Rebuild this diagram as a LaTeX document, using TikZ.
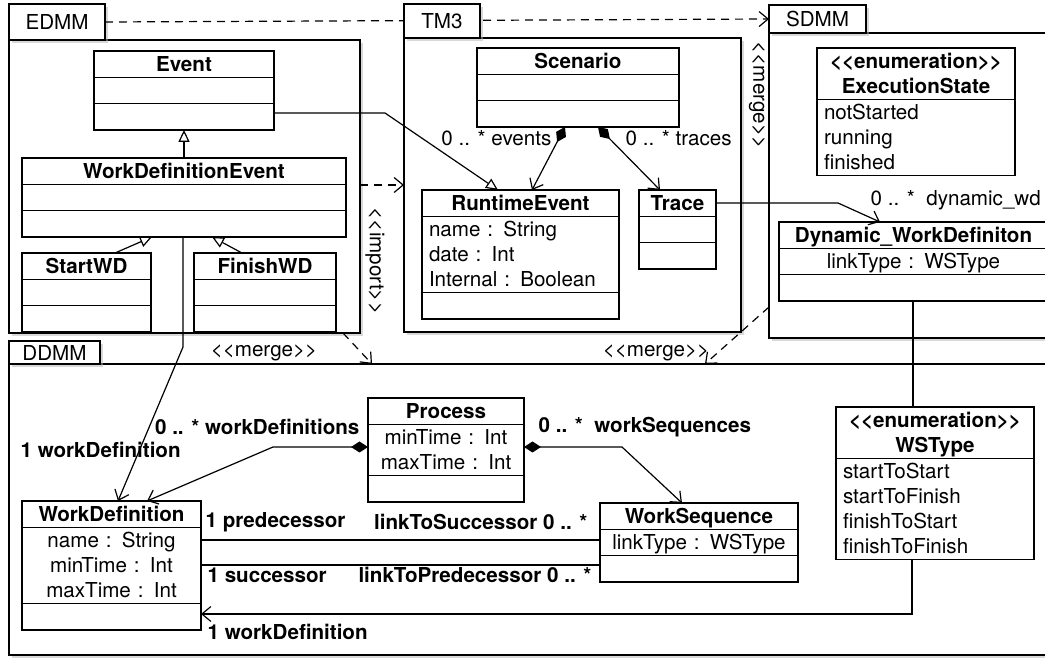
\documentclass[tikz,border=0pt]{standalone}
\usepackage{fontspec}
\newfontfamily\umlfam{TeX Gyre Heros}
\usetikzlibrary{arrows.meta,shapes.multipart,shadows}
\newcommand\umlfont{\umlfam\fontsize{20.6pt}{25pt}\selectfont}
\newcommand\rowstrut{\rule[-5pt]{0pt}{25pt}}

\begin{document}
\begin{tikzpicture}
  [
  x=1pt, y=-1pt,
  line width=1.2pt,
  umlclass/.style={
    rectangle split,
    rectangle split parts=3,
    draw,
    fill=white,
    line width=1.3pt,
    inner xsep=7pt,
    inner ysep=0pt,
    outer sep=0pt,
    anchor=north west,
    align=center,
    font=\umlfont,
    text width=#1
  },
  umlenum/.style={
    umlclass=#1,
    rectangle split parts=2
  },
  package/.style={
    draw,
    fill=white,
    line width=2.4pt,
    inner sep=0pt,
    outer sep=0pt,
    anchor=north west,
    font=\umlfont,
    drop shadow={shadow xshift=3pt, shadow yshift=-3pt, fill=black!30, opacity=0.5}
  },
  lbl/.style={font=\umlfont, inner sep=0pt},
  blbl/.style={font=\umlfont\bfseries, inner sep=0pt},
  gen/.style={-{Triangle[length=12pt,width=11pt,fill=white]}},
  assoc/.style={-{Straight Barb[length=9pt,width=15pt]}},
  comp/.style={{Diamond[length=17pt,width=11pt]}-{Straight Barb[length=9pt,width=15pt]}},
  dep/.style={dash pattern=on 8pt off 6pt, assoc}
  ]
  \useasboundingbox (0,0) rectangle (1045,660);
  \clip (0,0) rectangle (1045,660);

  % packages
  \node[package, minimum width=1051pt, minimum height=291pt] (ddmm) at (9,364) {};
  \node[package, minimum width=91pt, minimum height=23pt] (ddmmtab) at (9,341) {DDMM};
  \node[package, minimum width=351pt, minimum height=293pt] (edmm) at (9,40) {};
  \node[package, minimum width=96pt, minimum height=36pt] (edmmtab) at (9,4) {EDMM};
  \draw[dep] (edmmtab.east) -- (769,19);
  \node[package, minimum width=337pt, minimum height=294pt] (tm) at (404,38) {};
  \node[package, minimum width=76pt, minimum height=34pt] (tmtab) at (404,4) {TM3};
  \node[package, minimum width=291pt, minimum height=305pt] (sdmm) at (769,33) {};
  \node[package, minimum width=97pt, minimum height=28pt] (sdmmtab) at (769,5) {SDMM};

  % EDMM
  \node[umlclass=166pt] (ev) at (94,51)
    {\rowstrut\bfseries Event \nodepart{second}\rowstrut \nodepart{third}\rowstrut};
  \node[umlclass=310pt] (wde) at (22,158)
    {\rowstrut\bfseries WorkDefinitionEvent \nodepart{second}\rowstrut \nodepart{third}\rowstrut};
  \node[umlclass=115pt] (sw) at (22,253)
    {\rowstrut\bfseries StartWD \nodepart{second}\rowstrut \nodepart{third}\rowstrut};
  \node[umlclass=128pt] (fw) at (194,253)
    {\rowstrut\bfseries FinishWD \nodepart{second}\rowstrut \nodepart{third}\rowstrut};

  % TM3
  \node[umlclass=188pt] (sc) at (477,48)
    {\rowstrut\bfseries Scenario \nodepart{second}\rowstrut \nodepart{third}\rowstrut};
  \node[umlclass=183pt] (re) at (422,190)
    {\rowstrut\bfseries RuntimeEvent
     \nodepart{second}\raggedright\rowstrut name : String\\\rowstrut date : Int\\\rowstrut Internal : Boolean\par
     \nodepart{third}\rowstrut};
  \node[umlclass=63pt] (tr) at (639,190)
    {\rowstrut\bfseries Trace \nodepart{second}\rowstrut \nodepart{third}\rowstrut};

  % SDMM
  \node[umlenum=184pt] (es) at (817,48)
    {\bfseries\rowstrut <<enumeration>>\\\rowstrut ExecutionState
     \nodepart{second}\raggedright\rowstrut notStarted\\\rowstrut running\\\rowstrut finished\par};
  \node[umlclass=255pt] (dwd) at (779,222)
    {\rowstrut\bfseries Dynamic\_WorkDefiniton \nodepart{second}\rowstrut linkType : WSType \nodepart{third}\rowstrut};

  % DDMM
  \node[umlclass=142pt] (pr) at (368,398)
    {\rowstrut\bfseries Process
     \nodepart{second}\rowstrut minTime : Int\\\rowstrut maxTime : Int
     \nodepart{third}\rowstrut};
  \node[umlclass=165pt] (wd) at (22,501)
    {\rowstrut\bfseries WorkDefinition
     \nodepart{second}\rowstrut name : String\\\rowstrut minTime : Int\\\rowstrut maxTime : Int
     \nodepart{third}\rowstrut};
  \node[umlclass=184pt] (wsq) at (600,503)
    {\rowstrut\bfseries WorkSequence \nodepart{second}\rowstrut linkType : WSType \nodepart{third}\rowstrut};
  \node[umlenum=184pt] (wst) at (836,407)
    {\bfseries\rowstrut <<enumeration>>\\\rowstrut WSType
     \nodepart{second}\raggedright\rowstrut startToStart\\\rowstrut startToFinish\\\rowstrut finishToStart\\\rowstrut finishToFinish\par};

  % connectors
  \draw[gen] (wde.north) -- (ev.south);
  \draw[gen] (sw.north -| 115,0) -- (wde.south -| 152,0);
  \draw[gen] (fw.north -| 242,0) -- (wde.south -| 212,0);
  \draw[gen] (ev.east |- 0,113) -- (385,113) -- (re.north -| 498,0);
  \draw[comp] (sc.south -| 565,0) -- (re.north -| 532,0);
  \draw[comp] (sc.south -| 598,0) -- (tr.north -| 660,0);
  \draw[assoc] (tr.east |- 0,203) -- (838,203) -- (dwd.north -| 880,0);
  \draw (dwd.south -| 913,0) -- (wst.north -| 913,0);
  \draw[assoc] (wst.south -| 912,0) -- (912,614) -- (wd.east |- 0,614);
  \draw[assoc] (wde.south -| 183,0) -- (183,347) -- (wd.north -| 118,0);
  \draw[comp] (pr.west |- 0,447) -- (273,447) -- (wd.north -| 147,0);
  \draw[comp] (pr.east |- 0,447) -- (622,447) -- (wsq.north -| 682,0);
  \draw (wd.east |- 0,540) -- (wsq.west |- 0,540);
  \draw (wd.east |- 0,565) -- (wsq.west |- 0,565);
  \draw[dep] (edmm.east |- 0,185) -- (tm.west |- 0,185);
  \draw[dep] (edmm.south -| 343,0) -- (ddmm.north -| 372,0);
  \draw[dep] (sdmm.west |- 0,307) -- (ddmm.north -| 705,0);

  % labels
  \node[lbl, rotate=-90] (lmergea) at (757,95) {<<merge>>};
  \node[lbl, rotate=-90] (limport) at (375,261) {<<import>>};
  \node[lbl] (lmergeb) at (264,353) {<<merge>>};
  \node[lbl] (lmergec) at (656,353) {<<merge>>};
  \node[lbl, anchor=east] (levents) at (552,138) {0 .. * events};
  \node[lbl, anchor=west] (ltraces) at (625,138) {0 .. * traces};
  \node[lbl, anchor=west] (ldwd) at (870,200) {0 .. *\ \ dynamic\_wd};
  \node[blbl, anchor=west] (lwda) at (20,450) {1 workDefinition};
  \node[blbl, anchor=east] (lwds) at (360,427) {0 .. * workDefinitions};
  \node[blbl, anchor=west] (lwsq) at (538,427) {0 .. *\ \ workSequences};
  \node[blbl, anchor=west] (lpred) at (205,522) {1 predecessor};
  \node[blbl, anchor=east] (ltosucc) at (588,522) {linkToSuccessor 0 .. *};
  \node[blbl, anchor=west] (lsucc) at (207,575) {1 successor};
  \node[blbl, anchor=east] (ltopred) at (592,575) {linkToPredecessor 0 .. *};
  \node[blbl, anchor=west] (lwdb) at (207,632) {1 workDefinition};
\end{tikzpicture}
\end{document}
